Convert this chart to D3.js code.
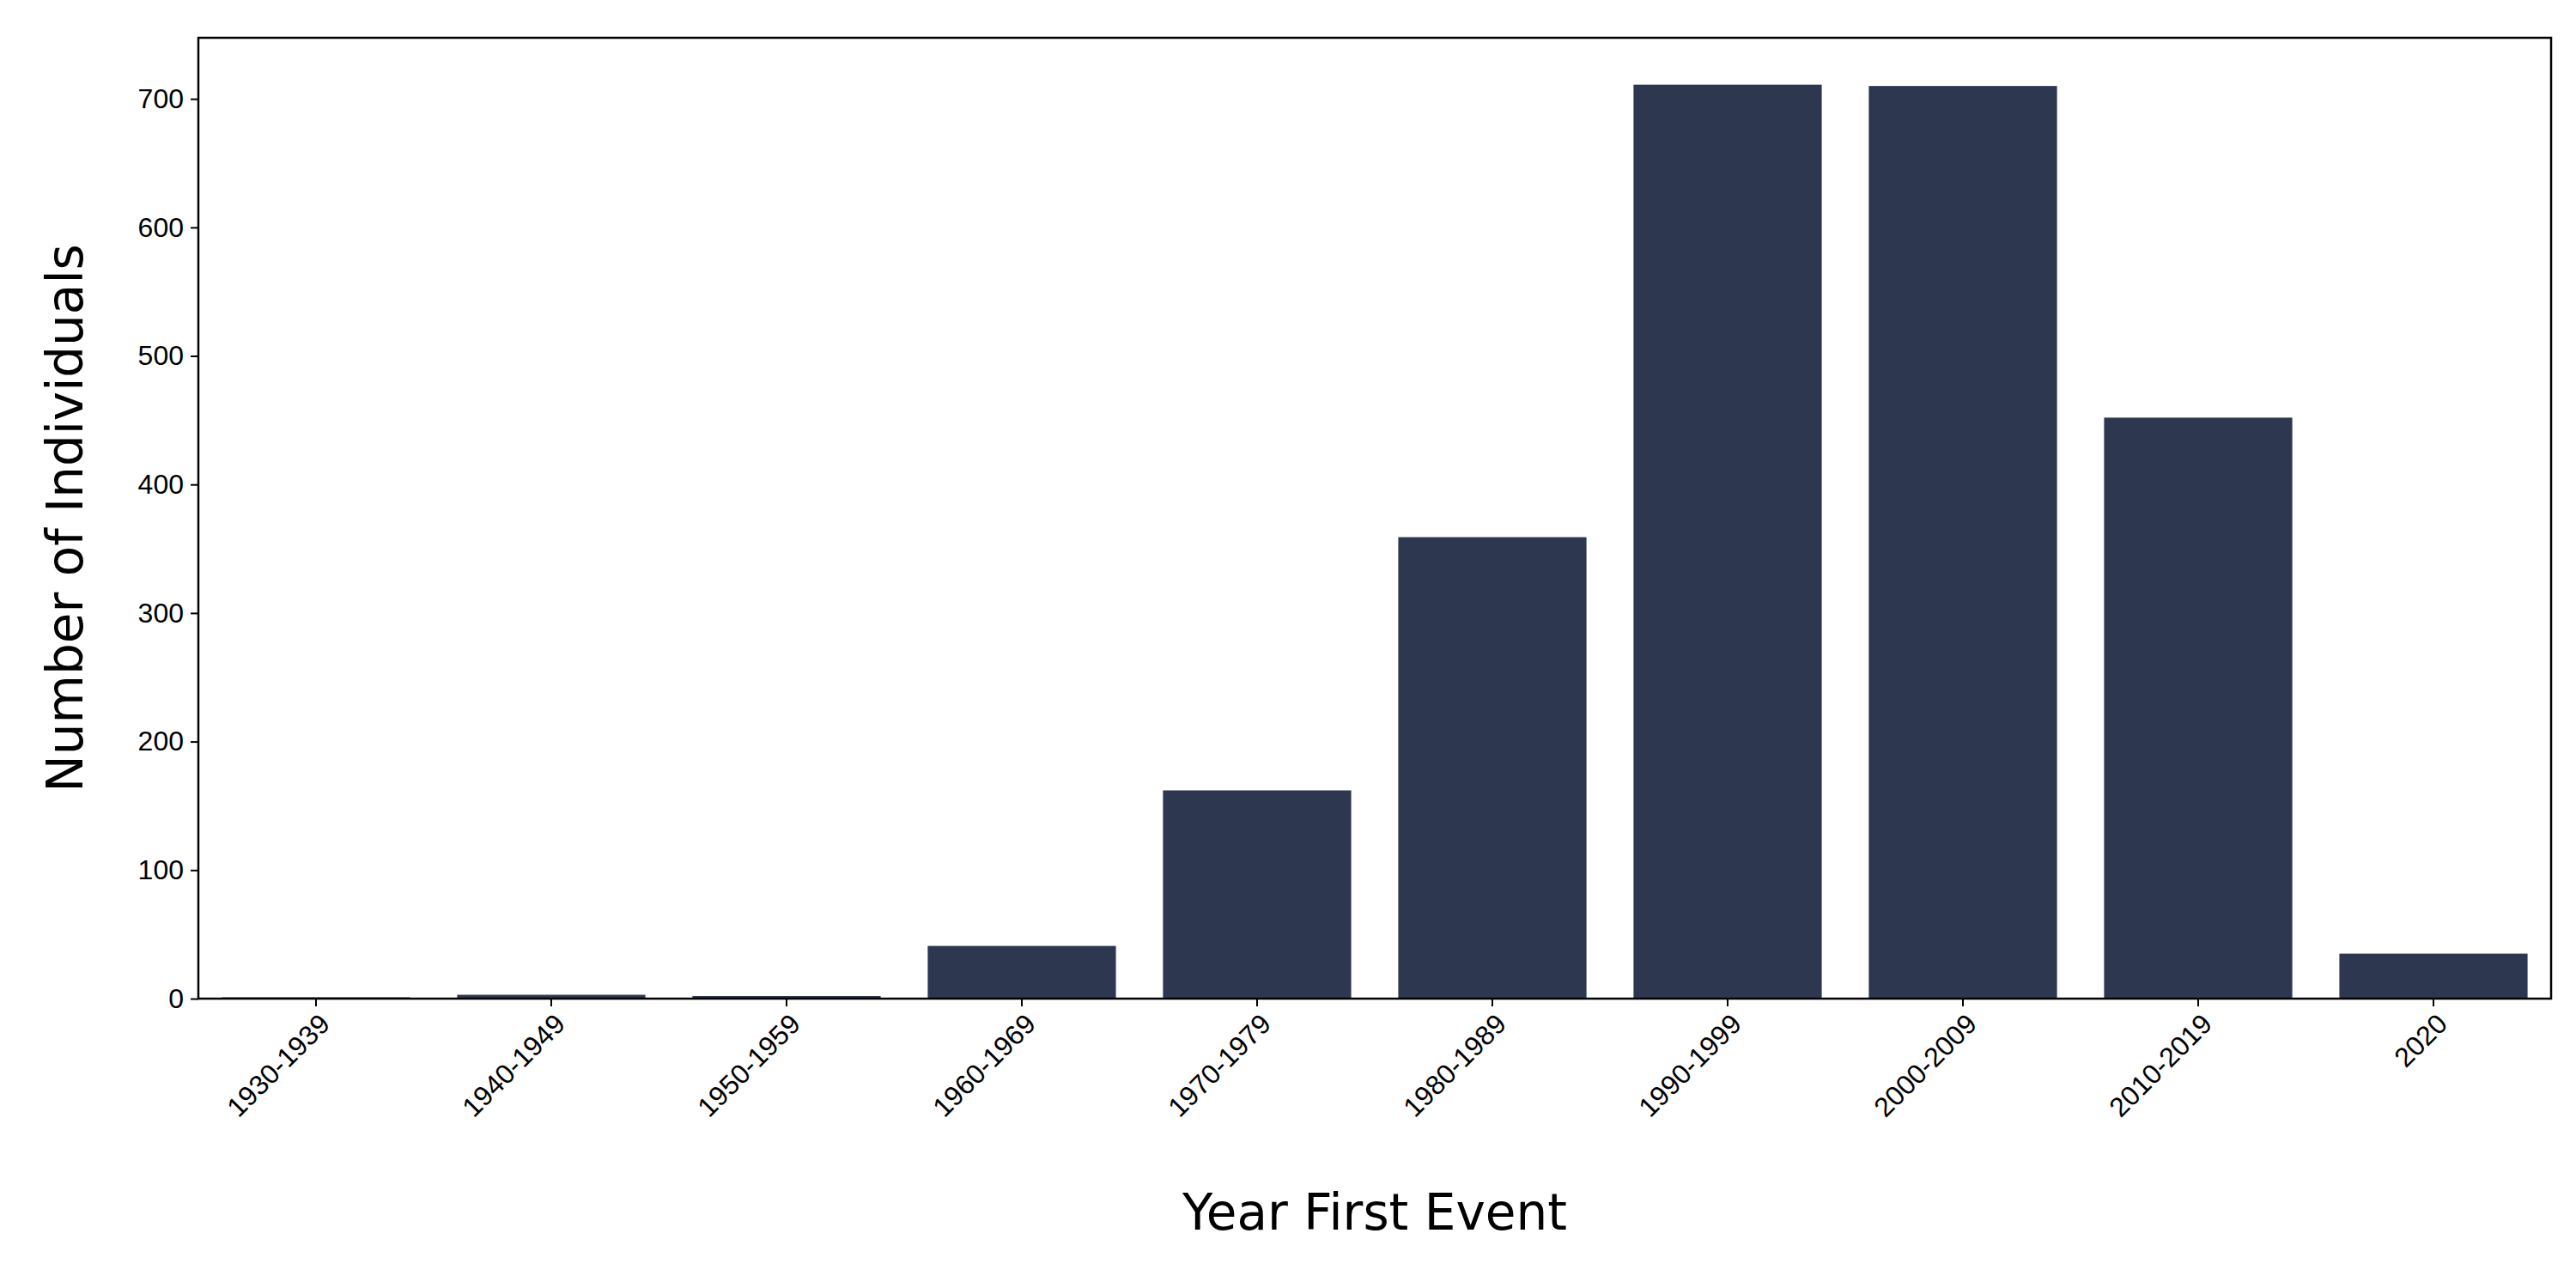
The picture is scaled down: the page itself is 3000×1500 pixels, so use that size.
<!DOCTYPE html>
<html><head><meta charset="utf-8">
<script src="https://cdn.jsdelivr.net/npm/d3@7"></script>
<style>body{margin:0;background:#fff}svg{font-family:"DejaVu Sans",sans-serif}</style>
</head><body><div id="chart"></div>
<script>
const categories = ['1930-1939','1940-1949','1950-1959','1960-1969','1970-1979','1980-1989','1990-1999','2000-2009','2010-2019','2020'];
const counts = [1, 3, 2, 41, 162, 359, 711, 710, 452, 35];
const yTicks = [0, 100, 200, 300, 400, 500, 600, 700];

const width = 3000, height = 1500;
const margins = { top: 44, right: 29, bottom: 337, left: 231 };
const w = width - margins.left - margins.right;
const h = height - margins.top - margins.bottom;

const svg = d3.select('#chart').append('svg')
  .attr('width', width).attr('height', height)
  .append('g')
  .attr('transform', `translate(${margins.left},${margins.top})`);

const x = d3.scaleBand().domain(categories).range([0, w]).paddingInner(0.2).paddingOuter(0.1);
const y = d3.scaleLinear().domain([0, 747.5]).range([h, 0]);

svg.selectAll('rect.bar').data(counts).enter().append('rect')
  .attr('class', 'bar')
  .attr('x', (d, i) => x(categories[i]))
  .attr('width', x.bandwidth())
  .attr('y', d => y(d))
  .attr('height', d => h - y(d))
  .attr('fill', '#2d3850');

const xAxis = svg.append('g').attr('transform', `translate(0,${h})`)
  .call(d3.axisBottom(x).tickSizeInner(9).tickSizeOuter(0).tickPadding(10));
xAxis.selectAll('text')
  .attr('font-size', 32)
  .attr('text-anchor', 'end')
  .attr('dx', '-0.3em').attr('dy', '0.5em')
  .attr('transform', 'rotate(-45)');

const yAxis = svg.append('g')
  .call(d3.axisLeft(y).tickValues(yTicks).tickSizeInner(9).tickSizeOuter(0).tickPadding(8));
yAxis.selectAll('text').attr('font-size', 32);
svg.selectAll('.domain').remove();
svg.selectAll('.tick line').attr('stroke-width', 2);

svg.append('rect').attr('width', w).attr('height', h)
  .attr('fill', 'none').attr('stroke', '#000').attr('stroke-width', 2.5);

svg.append('text').attr('x', w / 2).attr('y', h + 269)
  .attr('text-anchor', 'middle').attr('font-size', 58).text('Year First Event');
svg.append('text').attr('transform', `translate(-135,${h / 2}) rotate(-90)`)
  .attr('text-anchor', 'middle').attr('font-size', 58).text('Number of Individuals');
</script></body></html>
